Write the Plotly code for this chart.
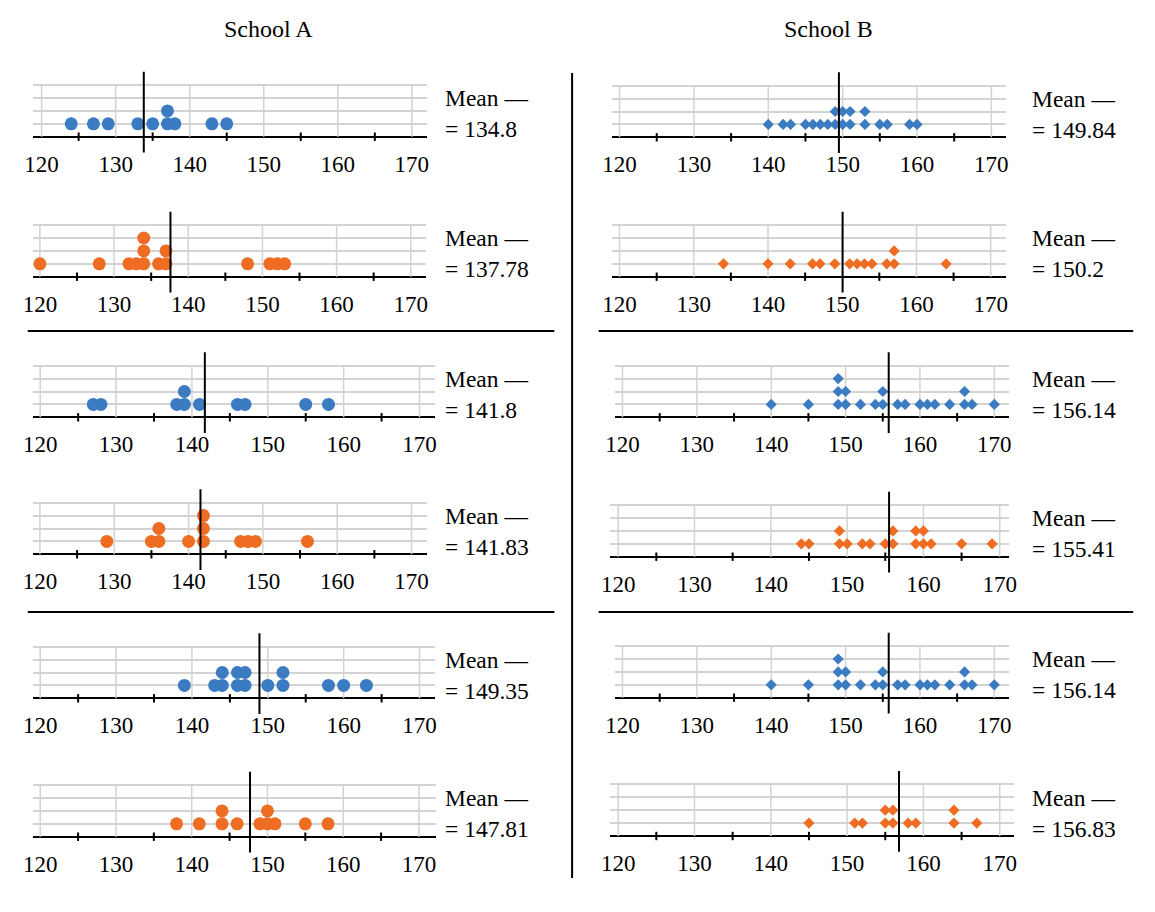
import plotly.graph_objects as go

# ---- data (heights) ----
school_a_1 = [124, 127, 129, 133, 135, 137, 137, 138, 143, 145]
school_a_2 = [120, 128, 132, 133, 134, 134, 134, 136, 137, 137, 148, 151, 152, 153]
school_a_3 = [127, 128, 138, 139, 139, 141, 146, 147, 155, 158]
school_a_4 = [129, 135, 136, 136, 140, 142, 142, 142, 147, 148, 149, 156]
school_a_5 = [139, 143, 144, 144, 146, 146, 147, 147, 150, 152, 152, 158, 160, 163]
school_a_6 = [138, 141, 144, 144, 146, 149, 150, 150, 151, 155, 158]

school_b_1 = [140, 142, 143, 145, 146, 147, 148, 149, 149, 150, 150, 151, 151, 153, 153, 155, 156, 159, 160]
school_b_2 = [134, 140, 143, 146, 147, 149, 151, 152, 153, 154, 156, 157, 157, 164]
school_b_3 = [140, 145, 149, 149, 149, 150, 150, 152, 154, 155, 155, 157, 158, 160, 161, 162, 164, 166, 166, 167, 170]
school_b_4 = [144, 145, 149, 149, 150, 152, 153, 155, 156, 156, 159, 159, 160, 160, 161, 165, 169]
school_b_5 = [140, 145, 149, 149, 149, 150, 150, 152, 154, 155, 155, 157, 158, 160, 161, 162, 164, 166, 166, 167, 170]
school_b_6 = [145, 151, 152, 155, 155, 156, 156, 158, 159, 164, 164, 167]

# printed means and where the mean line is drawn
mean_labels_a = ["134.8", "137.78", "141.8", "141.83", "149.35", "147.81"]
mean_labels_b = ["149.84", "150.2", "156.14", "155.41", "156.14", "156.83"]
mean_lines_a = [133.8, 137.6, 141.7, 141.6, 148.9, 147.7]
mean_lines_b = [149.5, 150.05, 155.8, 155.5, 155.8, 156.8]

label_ticks = [120, 130, 140, 150, 160, 170]
minor_ticks = [125, 135, 145, 155, 165]
levels = [1, 2, 3, 4]

titles = ["School A", "School B"]

BLUE = "#3a7bc2"
ORANGE = "#ef6c23"
GRID = "#d3d3d3"
FONT = "Liberation Serif"
W, H = 1155, 912

# panel geometry in pixels: x of 120, x of 170, axis left, axis right, axis y
geo_a = [(32.1, 408.2, 23.2, 423.9, 136.7),
         (30.4, 407.1, 23.2, 422.5, 276.7),
         (30.7, 416.0, 23.2, 432.0, 417.3),
         (30.4, 407.9, 23.2, 423.2, 554.3),
         (30.7, 416.0, 23.2, 432.0, 698.3),
         (30.7, 415.4, 23.2, 433.2, 836.7)]
geo_b = [(619.2, 996.9, 611.2, 1012.0, 137.3),
         (619.2, 996.2, 611.2, 1012.0, 276.7),
         (622.2, 999.9, 614.8, 1014.5, 417.3),
         (617.8, 1005.4, 609.3, 1014.5, 556.7),
         (622.2, 999.9, 614.8, 1014.5, 697.7),
         (617.8, 1005.4, 609.3, 1020.0, 836.0)]
LEVEL_PX = 12.9
Y_LO, Y_HI = -1.3, 5.1

panels = []
a_data = [school_a_1, school_a_2, school_a_3, school_a_4, school_a_5, school_a_6]
b_data = [school_b_1, school_b_2, school_b_3, school_b_4, school_b_5, school_b_6]
for i in range(6):
    panels.append((a_data[i], ORANGE if i % 2 else BLUE, "circle", 13,
                   mean_lines_a[i], mean_labels_a[i], geo_a[i], 440))
    panels.append((b_data[i], ORANGE if i % 2 else BLUE, "diamond", 8.6,
                   mean_lines_b[i], mean_labels_b[i], geo_b[i], 1036.5))


def stack(vals):
    seen = {}
    ys = []
    for v in vals:
        seen[v] = seen.get(v, 0) + 1
        ys.append(seen[v])
    return ys


fig = go.Figure()
shapes = []
annotations = []

for n, (vals, color, symbol, msize, mline, mlabel, g, text_x) in enumerate(panels, start=1):
    x120, x170, axl, axr, axy = g
    ppu = (x170 - x120) / 50.0
    xmin = 120 + (axl - x120) / ppu
    xmax = 120 + (axr - x120) / ppu
    top_px = axy - Y_HI * LEVEL_PX
    bot_px = axy - Y_LO * LEVEL_PX
    xa = "x" if n == 1 else "x%d" % n
    ya = "y" if n == 1 else "y%d" % n

    # vertical grid lines, only between baseline and top level
    gx, gy = [], []
    for t in label_ticks:
        gx += [t, t, None]
        gy += [0, levels[-1], None]
    fig.add_trace(go.Scatter(x=gx, y=gy, mode="lines", xaxis=xa, yaxis=ya,
                             line=dict(color=GRID, width=1.5),
                             hoverinfo="skip", showlegend=False))
    # minor tick marks crossing the axis
    fig.add_trace(go.Scatter(x=minor_ticks, y=[0] * len(minor_ticks), mode="markers",
                             xaxis=xa, yaxis=ya, cliponaxis=False,
                             marker=dict(symbol="line-ns", size=6,
                                         line=dict(color="black", width=2)),
                             hoverinfo="skip", showlegend=False))
    # the dots
    fig.add_trace(go.Scatter(x=vals, y=stack(vals), mode="markers",
                             xaxis=xa, yaxis=ya, cliponaxis=False,
                             marker=dict(symbol=symbol, size=msize, color=color,
                                         line=dict(width=0)),
                             showlegend=False))

    fig.update_layout(**{
        ("xaxis" if n == 1 else "xaxis%d" % n): dict(
            domain=[axl / W, axr / W], range=[xmin, xmax],
            anchor="free", position=1 - (axy + 11) / H,
            showgrid=False, zeroline=False, showline=False,
            tickvals=label_ticks, ticks="", fixedrange=True,
            tickfont=dict(family=FONT, size=23, color="black")),
        ("yaxis" if n == 1 else "yaxis%d" % n): dict(
            domain=[1 - bot_px / H, 1 - top_px / H], range=[Y_LO, Y_HI],
            anchor=xa, tickvals=levels, showticklabels=False, ticks="",
            showgrid=True, gridcolor=GRID, gridwidth=1.5,
            zeroline=True, zerolinecolor="black", zerolinewidth=2,
            showline=False, fixedrange=True),
    })

    shapes.append(dict(type="line", xref=xa, yref=ya, x0=mline, x1=mline,
                       y0=-1.22, y1=5.04, line=dict(color="black", width=2)))
    annotations.append(dict(text="Mean —<br>= " + mlabel, xref="paper", yref="paper",
                            x=text_x / W, y=1 - (axy - 23) / H,
                            xanchor="left", yanchor="middle", align="left",
                            showarrow=False,
                            font=dict(family=FONT, size=23.5, color="black")))

# column titles
for t, cx in zip(titles, [263, 831]):
    annotations.append(dict(text=t, xref="paper", yref="paper", x=cx / W, y=1 - 29 / H,
                            xanchor="center", yanchor="middle", showarrow=False,
                            font=dict(family=FONT, size=24, color="black")))

# divider and row separators
shapes.append(dict(type="line", xref="paper", yref="paper", x0=571 / W, x1=571 / W,
                   y0=1 - 878 / H, y1=1 - 73 / H, line=dict(color="black", width=2)))
for sy in [331, 612]:
    shapes.append(dict(type="line", xref="paper", yref="paper", x0=18 / W, x1=553 / W,
                       y0=1 - sy / H, y1=1 - sy / H, line=dict(color="black", width=2)))
    shapes.append(dict(type="line", xref="paper", yref="paper", x0=598 / W, x1=1141 / W,
                       y0=1 - sy / H, y1=1 - sy / H, line=dict(color="black", width=2)))

fig.update_layout(
    width=W, height=H,
    margin=dict(l=0, r=0, t=0, b=0),
    paper_bgcolor="white", plot_bgcolor="rgba(0,0,0,0)",
    shapes=shapes, annotations=annotations,
    showlegend=False,
)

# drop the browser's default body margin so the figure sits at (0, 0)
fig.write_html("out.html", config={"displayModeBar": False},
               post_script="document.body.style.margin='0px';")
